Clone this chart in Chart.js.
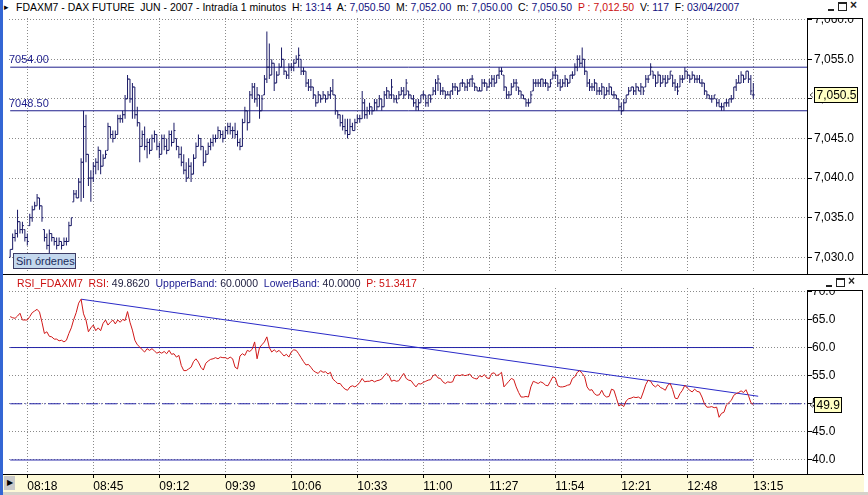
<!DOCTYPE html>
<html>
<head>
<meta charset="utf-8">
<title>FDAXM7 - DAX FUTURE JUN 2007</title>
<script src="https://cdn.jsdelivr.net/npm/chart.js@4.4.1/dist/chart.umd.min.js"></script>
<style>
  body { margin: 0; background: #fff; font-family: "Liberation Sans", Arial, sans-serif; }
  #page { position: relative; width: 868px; height: 495px; overflow: hidden; background: #fff; }
  .abs { position: absolute; }
  .t { position: absolute; white-space: pre; font-size: 11px; line-height: 13px; z-index: 5; color: #000; }
  .v { color: #101080; }
  .red { color: #cc1010; }
  .navy { color: #1a1a90; }
  .dk { color: #202040; }
  .btn { position: absolute; z-index: 5; box-sizing: border-box; }
  canvas { position: absolute; left: 0; z-index: 1; }
</style>
</head>
<body>
<div id="page">
  <!-- window frame pieces -->
  <div class="abs" style="left:0;top:0;width:3px;height:495px;background:#3466d4;z-index:6"></div>
  <div class="abs" style="left:3px;top:0;width:865px;height:18px;background:#fff;z-index:3"></div>
  <div class="abs" style="left:807px;top:18px;width:56px;height:257px;border:1px solid #000;box-sizing:border-box"></div>
  <div class="abs" style="left:3px;top:274px;width:865px;height:1px;background:#000;z-index:3"></div>
  <div class="abs" style="left:3px;top:275px;width:865px;height:13px;background:#fff;z-index:3"></div>
  <div class="abs" style="left:807px;top:275px;width:56px;height:16px;background:#fff;border-bottom:1px solid #000;box-sizing:border-box;z-index:3"></div>
  <div class="abs" style="left:807px;top:290px;width:56px;height:185px;border:1px solid #000;box-sizing:border-box"></div>
  <div class="abs" style="left:3px;top:474px;width:861px;height:18px;background:#fdf9d8;border-top:1px solid #000;box-sizing:border-box"></div>
  <div class="abs" style="left:3px;top:492px;width:865px;height:3px;background:#d6d2ca;z-index:3"></div>
  <div class="abs" style="left:4px;top:476px;width:11px;height:14px;background:#c9c9c9;z-index:3;font-size:8px;line-height:14px;text-align:center">&#9654;</div>

  <!-- title line -->
  <span class="t" style="left:4px;top:1px;font-size:9px">&#9656;</span>
  <span class="t fit" data-w="724" style="left:16px;top:1px">FDAXM7 - DAX FUTURE  JUN - 2007 - Intradía 1 minutos  H: <span class="v">13:14</span>  A: <span class="v">7,050.50</span>  M: <span class="v">7,052.00</span>  m: <span class="v">7,050.00</span>  C: <span class="v">7,050.50</span>  <span class="red">P : 7,012.50</span>  V: <span class="v">117</span>  F: <span class="v">03/04/2007</span></span>
  <div class="btn" style="left:828px;top:9px;width:6px;height:2px;background:#222"></div>
  <div class="btn" style="left:838px;top:2px;width:9px;height:9px;border:1px solid #222;border-top-width:2px"></div>
  <span class="t" style="left:850px;top:-1px;font-size:12px;font-weight:bold;color:#222">&#215;</span>

  <!-- RSI header -->
  <span class="t fit" data-w="400" style="left:17px;top:277px"><span class="red">RSI_FDAXM7  RSI:</span> <span class="dk">49.8620</span>  <span class="navy">UppperBand:</span> <span class="dk">60.0000</span>  <span class="navy">LowerBand:</span> <span class="dk">40.0000</span>  <span class="red">P: 51.3417</span></span>
  <div class="btn" style="left:826px;top:285px;width:6px;height:2px;background:#222"></div>
  <div class="btn" style="left:836px;top:278px;width:9px;height:9px;border:1px solid #222;border-top-width:2px"></div>
  <span class="t" style="left:848px;top:275px;font-size:12px;font-weight:bold;color:#222">&#215;</span>

  <div class="abs" style="left:13px;top:253px;width:63px;height:16px;box-sizing:border-box;border:1px solid #3c3c64;background:#c4d8ee;color:#1c2c5c;font-size:11px;line-height:14px;padding-left:2px;z-index:5;white-space:nowrap">Sin órdenes</div>

  <canvas id="priceChart" width="868" height="284" style="top:0"></canvas>
  <canvas id="rsiChart" width="868" height="220" style="top:275px"></canvas>
</div>

<script>
// ---- data ----
const firstBarTime = '08:11';   // one bar per minute
const timeLabels = ['08:18', '08:45', '09:12', '09:39', '10:06', '10:33', '11:00', '11:27', '11:54', '12:21', '12:48', '13:15'];
const priceTicks = [7030, 7035, 7040, 7045, 7050, 7055, 7060];
const rsiTicks = [40, 45, 50, 55, 60, 65, 70];
const priceLevels = [7054.00, 7048.50];
const rsiBands = [60, 40];
const rsiMid = 50;
const trendTimes = ['08:40', '13:17'];
const trendValues = [68.6, 51.34];

const opens = [
  7030.0, 7031.0, 7032.5, 7033.0, 7034.5, 7033.5, 7033.5, 7032.5, 7034.0, 7035.0,
  7036.0, 7036.5, 7037.5, 7036.5, 7033.5, 7032.5, 7031.5, 7033.0, 7032.5, 7032.0,
  7031.5, 7032.0, 7031.5, 7032.0, 7032.0, 7034.0, 7037.0, 7038.0, 7037.5, 7039.5,
  7042.0, 7046.5, 7043.0, 7040.0, 7040.0, 7041.5, 7042.0, 7043.5, 7041.5, 7042.5,
  7043.5, 7046.5, 7045.5, 7045.0, 7045.5, 7047.5, 7047.5, 7048.0, 7050.0, 7052.5,
  7050.0, 7051.5, 7048.0, 7047.0, 7044.0, 7045.5, 7044.0, 7044.5, 7043.5, 7045.0,
  7045.5, 7044.0, 7043.0, 7045.0, 7044.0, 7043.5, 7045.5, 7044.5, 7045.0, 7044.0,
  7043.0, 7042.0, 7041.0, 7040.0, 7041.5, 7040.5, 7042.5, 7044.0, 7045.0, 7044.0,
  7042.0, 7043.0, 7044.0, 7044.5, 7045.0, 7045.0, 7046.0, 7045.5, 7045.0, 7046.0,
  7046.5, 7046.0, 7046.0, 7045.5, 7044.5, 7044.0, 7047.0, 7048.5, 7047.0, 7050.5,
  7051.5, 7050.0, 7050.5, 7048.5, 7050.5, 7052.5, 7054.0, 7053.0, 7054.5, 7052.0,
  7053.0, 7054.0, 7055.0, 7053.5, 7053.0, 7054.0, 7054.0, 7054.5, 7055.0, 7055.0,
  7053.5, 7053.5, 7052.0, 7051.5, 7051.5, 7050.5, 7049.5, 7050.5, 7050.0, 7050.5,
  7050.0, 7050.5, 7051.0, 7050.5, 7048.5, 7048.0, 7047.0, 7046.5, 7046.0, 7045.5,
  7046.5, 7046.0, 7047.0, 7047.5, 7047.5, 7049.5, 7048.0, 7048.5, 7049.0, 7048.5,
  7049.5, 7049.0, 7050.0, 7049.0, 7050.5, 7051.0, 7050.5, 7050.5, 7050.0, 7050.0,
  7050.5, 7051.0, 7050.5, 7051.0, 7050.5, 7050.0, 7049.5, 7049.0, 7049.5, 7050.5,
  7050.5, 7049.5, 7050.5, 7050.5, 7051.0, 7052.0, 7052.0, 7051.0, 7051.0, 7050.5,
  7050.5, 7051.0, 7051.5, 7051.5, 7051.0, 7052.0, 7052.0, 7051.5, 7052.0, 7052.5,
  7052.0, 7051.5, 7051.0, 7051.0, 7052.0, 7052.0, 7051.5, 7052.0, 7052.5, 7052.0,
  7053.0, 7053.5, 7053.0, 7051.5, 7050.5, 7050.5, 7051.5, 7052.0, 7051.5, 7051.0,
  7050.5, 7050.0, 7049.5, 7049.5, 7051.0, 7052.0, 7052.0, 7052.0, 7052.5, 7052.0,
  7052.0, 7051.5, 7052.5, 7053.0, 7053.0, 7052.0, 7051.5, 7052.0, 7052.5, 7052.0,
  7053.0, 7053.0, 7054.0, 7055.0, 7054.5, 7055.0, 7053.5, 7052.0, 7051.5, 7051.5,
  7052.0, 7051.0, 7051.0, 7051.5, 7050.5, 7051.0, 7051.5, 7050.5, 7050.5, 7050.0,
  7049.0, 7048.5, 7049.5, 7050.5, 7051.0, 7051.5, 7051.0, 7051.5, 7051.0, 7051.5,
  7051.5, 7052.5, 7053.0, 7053.5, 7053.0, 7052.0, 7053.0, 7052.0, 7052.5, 7052.0,
  7052.5, 7053.0, 7052.0, 7051.5, 7051.5, 7052.5, 7052.5, 7053.5, 7053.0, 7052.5,
  7053.0, 7052.5, 7052.5, 7052.0, 7052.0, 7051.0, 7050.5, 7050.0, 7050.0, 7050.0,
  7049.5, 7049.0, 7049.0, 7049.5, 7049.5, 7050.0, 7050.0, 7051.5, 7052.0, 7052.0,
  7053.0, 7052.5, 7053.5, 7052.5, 7050.5
];
const highs = [
  7031.0, 7033.0, 7033.5, 7036.0, 7034.5, 7034.5, 7033.5, 7033.0, 7035.5, 7036.5,
  7037.0, 7038.0, 7037.5, 7036.5, 7033.5, 7033.0, 7033.5, 7033.0, 7032.5, 7032.5,
  7032.5, 7032.0, 7032.5, 7032.5, 7034.5, 7035.0, 7038.5, 7038.5, 7040.0, 7042.5,
  7048.5, 7048.0, 7043.0, 7041.0, 7042.0, 7042.5, 7044.0, 7043.5, 7043.0, 7043.5,
  7047.0, 7046.5, 7046.0, 7046.0, 7048.0, 7048.0, 7048.5, 7050.5, 7053.0, 7052.5,
  7052.0, 7051.5, 7049.0, 7047.0, 7046.0, 7046.5, 7045.0, 7045.0, 7045.5, 7046.0,
  7045.5, 7044.5, 7045.5, 7045.5, 7045.0, 7046.0, 7046.0, 7047.0, 7045.0, 7044.0,
  7044.0, 7043.0, 7042.0, 7042.5, 7042.0, 7043.0, 7044.5, 7045.5, 7045.0, 7044.0,
  7043.5, 7044.5, 7045.0, 7045.5, 7045.5, 7046.5, 7046.0, 7046.0, 7046.5, 7047.0,
  7047.0, 7046.5, 7047.0, 7046.0, 7045.0, 7047.5, 7049.0, 7048.5, 7051.0, 7052.0,
  7052.0, 7051.5, 7050.5, 7050.5, 7053.0, 7058.5, 7057.0, 7055.0, 7054.5, 7053.5,
  7054.5, 7056.5, 7055.0, 7053.5, 7054.5, 7054.5, 7055.0, 7055.5, 7056.5, 7055.0,
  7054.0, 7053.5, 7052.5, 7052.5, 7051.5, 7050.5, 7051.0, 7050.5, 7051.0, 7050.5,
  7051.0, 7051.5, 7052.5, 7050.5, 7048.5, 7048.0, 7048.0, 7047.5, 7047.5, 7047.5,
  7047.0, 7047.5, 7048.0, 7048.0, 7051.0, 7050.0, 7049.0, 7049.5, 7049.0, 7050.0,
  7050.0, 7050.5, 7050.0, 7051.0, 7051.5, 7051.0, 7052.5, 7050.5, 7050.5, 7051.0,
  7051.5, 7051.5, 7052.5, 7051.0, 7050.5, 7050.5, 7050.0, 7050.0, 7050.5, 7051.0,
  7050.5, 7050.5, 7050.5, 7051.5, 7052.5, 7053.0, 7052.0, 7051.5, 7051.0, 7051.0,
  7051.0, 7052.0, 7052.0, 7051.5, 7052.0, 7052.5, 7052.0, 7052.5, 7052.5, 7053.0,
  7052.0, 7051.5, 7051.5, 7052.5, 7052.5, 7052.0, 7052.5, 7053.0, 7053.0, 7053.0,
  7054.0, 7054.0, 7053.0, 7051.5, 7051.0, 7052.0, 7052.5, 7052.5, 7051.5, 7051.0,
  7050.5, 7050.0, 7050.0, 7051.0, 7052.5, 7052.5, 7052.5, 7052.5, 7052.5, 7052.5,
  7052.0, 7052.5, 7053.5, 7054.0, 7053.0, 7052.5, 7052.5, 7053.0, 7052.5, 7053.0,
  7053.5, 7054.5, 7055.5, 7055.5, 7056.5, 7055.0, 7053.5, 7052.5, 7052.0, 7052.5,
  7052.0, 7051.5, 7052.0, 7051.5, 7051.5, 7052.0, 7051.5, 7051.0, 7050.5, 7050.0,
  7049.5, 7050.0, 7050.5, 7051.5, 7051.5, 7051.5, 7052.0, 7051.5, 7052.0, 7051.5,
  7053.0, 7053.0, 7054.5, 7053.5, 7053.0, 7053.5, 7053.0, 7053.0, 7053.0, 7053.0,
  7053.5, 7053.0, 7052.5, 7052.0, 7053.0, 7053.0, 7054.0, 7053.5, 7053.0, 7053.5,
  7053.0, 7053.0, 7053.0, 7052.5, 7052.0, 7051.0, 7050.5, 7050.5, 7050.5, 7050.0,
  7050.0, 7049.5, 7049.5, 7050.0, 7050.0, 7050.5, 7051.5, 7052.5, 7053.0, 7053.5,
  7053.0, 7053.5, 7053.5, 7053.0, 7052.0
];
const lows = [
  7030.0, 7031.0, 7032.0, 7032.5, 7033.0, 7033.0, 7032.0, 7031.5, 7034.0, 7034.5,
  7036.0, 7036.5, 7036.0, 7034.5, 7032.0, 7031.0, 7030.5, 7032.0, 7031.5, 7031.0,
  7031.5, 7031.0, 7031.5, 7031.5, 7032.0, 7034.0, 7037.0, 7037.5, 7037.5, 7037.0,
  7037.5, 7042.0, 7039.0, 7037.0, 7039.5, 7040.5, 7041.0, 7040.5, 7041.5, 7042.5,
  7043.5, 7045.0, 7044.5, 7045.0, 7045.5, 7047.0, 7047.0, 7047.5, 7050.0, 7049.5,
  7047.5, 7047.5, 7046.5, 7042.0, 7044.0, 7043.5, 7042.5, 7043.0, 7043.5, 7044.5,
  7043.5, 7042.5, 7043.0, 7043.5, 7043.0, 7043.5, 7044.0, 7044.5, 7043.5, 7042.5,
  7041.5, 7040.5, 7039.5, 7040.0, 7039.5, 7040.5, 7042.5, 7044.0, 7043.5, 7041.5,
  7042.0, 7043.0, 7043.5, 7044.0, 7044.5, 7045.0, 7045.0, 7044.5, 7045.0, 7045.5,
  7045.5, 7045.0, 7045.0, 7044.0, 7043.5, 7044.0, 7047.0, 7046.0, 7047.0, 7050.0,
  7049.5, 7049.0, 7047.5, 7048.5, 7050.5, 7052.0, 7052.5, 7053.0, 7051.0, 7052.0,
  7053.0, 7054.0, 7053.0, 7052.5, 7052.5, 7053.5, 7053.5, 7054.5, 7054.0, 7053.0,
  7053.0, 7051.5, 7051.0, 7051.0, 7050.0, 7049.0, 7049.5, 7049.5, 7050.0, 7049.5,
  7050.0, 7050.0, 7050.5, 7048.0, 7047.5, 7046.5, 7046.0, 7045.5, 7045.0, 7045.5,
  7046.0, 7046.0, 7047.0, 7047.0, 7047.5, 7047.5, 7047.5, 7048.0, 7048.0, 7048.5,
  7048.5, 7049.0, 7048.5, 7049.0, 7050.0, 7050.0, 7050.0, 7049.5, 7049.5, 7050.0,
  7050.5, 7050.0, 7050.5, 7050.0, 7050.0, 7049.0, 7048.5, 7048.5, 7049.5, 7050.0,
  7049.0, 7049.0, 7049.5, 7050.5, 7050.5, 7051.0, 7050.5, 7050.5, 7050.0, 7050.5,
  7050.0, 7050.5, 7051.0, 7050.5, 7051.0, 7051.5, 7051.0, 7051.0, 7051.5, 7051.5,
  7051.0, 7051.0, 7051.0, 7051.0, 7051.5, 7051.0, 7051.5, 7051.5, 7051.5, 7052.0,
  7052.5, 7053.0, 7051.0, 7050.0, 7050.0, 7050.5, 7051.5, 7051.0, 7050.5, 7050.0,
  7050.0, 7049.0, 7049.0, 7049.5, 7051.0, 7051.5, 7051.5, 7051.5, 7051.5, 7051.5,
  7051.0, 7051.5, 7052.5, 7052.5, 7051.5, 7051.0, 7051.5, 7051.5, 7051.5, 7052.0,
  7052.5, 7053.0, 7053.5, 7054.0, 7054.0, 7053.0, 7051.5, 7051.0, 7051.0, 7051.0,
  7050.5, 7050.5, 7050.5, 7050.0, 7050.5, 7050.5, 7050.5, 7050.0, 7050.0, 7048.5,
  7048.0, 7048.5, 7049.5, 7050.5, 7051.0, 7050.5, 7050.5, 7051.0, 7050.5, 7050.5,
  7051.5, 7052.0, 7053.0, 7052.5, 7051.5, 7052.0, 7051.5, 7052.0, 7051.5, 7052.0,
  7052.5, 7051.5, 7051.0, 7050.5, 7051.5, 7052.0, 7052.5, 7052.5, 7052.0, 7052.5,
  7052.0, 7052.0, 7052.0, 7051.5, 7050.5, 7050.0, 7050.0, 7049.5, 7050.0, 7049.0,
  7049.0, 7048.5, 7048.5, 7049.0, 7049.0, 7049.5, 7050.0, 7051.0, 7052.0, 7052.0,
  7052.0, 7052.5, 7052.0, 7050.5, 7050.0
];
const closes = [
  7031.0, 7032.5, 7033.0, 7034.5, 7033.5, 7034.0, 7032.5, 7032.0, 7035.0, 7036.0,
  7036.5, 7037.5, 7036.5, 7035.0, 7032.5, 7031.5, 7033.0, 7032.5, 7032.0, 7031.5,
  7032.0, 7031.5, 7032.0, 7032.0, 7034.0, 7035.0, 7038.0, 7037.5, 7039.5, 7042.0,
  7046.5, 7043.0, 7040.0, 7040.0, 7041.5, 7042.0, 7043.5, 7041.5, 7042.5, 7043.0,
  7046.5, 7045.5, 7045.0, 7045.5, 7047.5, 7047.5, 7048.0, 7050.0, 7052.5, 7050.0,
  7051.5, 7048.0, 7047.0, 7044.0, 7045.5, 7044.0, 7044.5, 7043.5, 7045.0, 7045.5,
  7044.0, 7043.0, 7045.0, 7044.0, 7043.5, 7045.5, 7044.5, 7046.0, 7044.0, 7043.0,
  7042.0, 7041.0, 7040.0, 7041.5, 7040.5, 7042.5, 7044.0, 7045.0, 7044.0, 7042.0,
  7043.0, 7044.0, 7044.5, 7045.0, 7045.0, 7046.0, 7045.5, 7045.0, 7046.0, 7046.5,
  7046.0, 7046.0, 7045.5, 7044.5, 7044.0, 7047.0, 7048.5, 7047.0, 7050.5, 7051.5,
  7050.0, 7050.5, 7048.5, 7050.0, 7052.5, 7054.0, 7053.0, 7054.5, 7052.0, 7053.0,
  7054.0, 7055.0, 7053.5, 7053.0, 7054.0, 7054.0, 7054.5, 7055.0, 7055.5, 7053.5,
  7053.5, 7052.0, 7051.5, 7051.5, 7050.5, 7049.5, 7050.5, 7050.0, 7050.5, 7050.0,
  7050.5, 7051.0, 7050.5, 7048.5, 7048.0, 7047.0, 7046.5, 7046.0, 7045.5, 7046.5,
  7046.0, 7047.0, 7047.5, 7047.5, 7049.5, 7048.0, 7048.5, 7049.0, 7048.5, 7049.5,
  7049.0, 7050.0, 7049.0, 7050.5, 7051.0, 7050.5, 7051.5, 7050.0, 7049.5, 7050.5,
  7051.0, 7050.5, 7052.0, 7050.5, 7050.0, 7049.5, 7049.0, 7049.5, 7050.5, 7050.5,
  7049.5, 7050.5, 7050.0, 7051.0, 7052.0, 7052.5, 7051.0, 7051.0, 7050.5, 7050.5,
  7051.0, 7051.5, 7051.5, 7051.0, 7052.0, 7052.0, 7051.5, 7052.0, 7052.5, 7052.5,
  7051.5, 7051.0, 7051.0, 7052.0, 7052.0, 7051.5, 7052.0, 7052.5, 7052.0, 7053.0,
  7053.5, 7053.5, 7051.5, 7050.5, 7050.5, 7051.5, 7052.0, 7052.0, 7051.0, 7050.5,
  7050.0, 7049.5, 7049.5, 7050.5, 7052.0, 7052.0, 7052.0, 7052.5, 7052.0, 7052.0,
  7051.5, 7052.0, 7053.0, 7053.5, 7052.0, 7051.5, 7052.0, 7052.5, 7052.0, 7053.0,
  7053.0, 7054.0, 7055.0, 7054.5, 7055.0, 7053.5, 7052.0, 7051.5, 7051.5, 7052.0,
  7051.0, 7051.0, 7051.5, 7050.5, 7051.0, 7051.5, 7050.5, 7050.5, 7050.0, 7049.0,
  7048.5, 7049.5, 7050.5, 7051.0, 7051.5, 7051.0, 7051.5, 7051.0, 7051.5, 7051.0,
  7052.5, 7052.5, 7054.0, 7053.0, 7052.0, 7053.0, 7052.0, 7052.5, 7052.0, 7052.5,
  7053.5, 7052.0, 7051.5, 7051.0, 7052.5, 7052.5, 7053.5, 7053.0, 7052.5, 7053.0,
  7052.5, 7052.5, 7052.0, 7052.0, 7051.0, 7050.5, 7050.0, 7050.0, 7050.5, 7049.5,
  7049.0, 7049.0, 7049.5, 7049.5, 7050.0, 7050.0, 7051.5, 7052.0, 7052.0, 7053.0,
  7052.5, 7053.5, 7052.5, 7051.0, 7050.5
];
const rsiValues = [
  65.5, 65.3, 65.2, 65.6, 66.1, 64.9, 64.9, 64.9, 65.5, 66.2,
  66.5, 66.8, 66.3, 64.5, 62.5, 62.8, 62.0, 61.9, 61.5, 61.5,
  61.2, 61.3, 61.0, 61.3, 62.5, 63.5, 65.0, 66.2, 67.9, 68.6,
  66.0, 64.9, 62.8, 63.5, 64.0, 63.0, 63.5, 63.0, 64.3, 64.9,
  64.0, 64.5, 64.9, 64.2, 64.9, 64.5, 65.0, 64.8, 66.4, 64.5,
  63.1, 61.3, 60.5, 60.1, 59.6, 59.2, 59.8, 59.5, 59.8, 59.4,
  59.0, 59.2, 59.0, 59.3, 58.9, 59.5, 58.8, 58.9, 58.3, 58.6,
  56.8, 55.9, 55.9, 56.2, 56.5, 57.5, 58.0, 57.4, 56.5, 56.0,
  57.2, 57.6, 57.9, 58.0, 58.2, 58.0, 58.3, 58.2, 58.2, 58.0,
  58.3, 58.0, 56.5, 56.2, 58.5, 58.9, 58.6, 59.5, 59.3, 59.7,
  61.0, 58.0, 60.0, 60.5, 61.0, 61.9, 60.0, 59.2, 59.6, 59.2,
  59.5, 59.0, 58.5, 58.8, 58.3, 59.2, 59.6, 59.5, 58.9, 58.2,
  57.5, 56.9, 57.0, 56.5, 55.9, 55.6, 55.4, 55.9, 55.6, 55.7,
  55.3, 55.6, 54.4, 54.0, 53.6, 53.6, 53.0, 52.6, 52.4, 53.0,
  53.2, 53.0, 53.3, 53.8, 54.5, 53.9, 54.0, 54.0, 54.2, 53.9,
  54.1, 54.2, 54.4, 55.0, 55.4, 55.0, 54.0, 54.2, 54.0, 54.1,
  54.8, 55.4, 54.5, 54.2, 54.1, 53.5, 53.0, 53.6, 53.5, 53.8,
  54.0, 54.2, 54.3, 55.0, 55.2, 54.6, 54.5, 53.9, 53.6, 53.9,
  53.8, 53.9, 55.0, 55.1, 55.0, 55.2, 55.0, 55.1, 55.3, 54.7,
  54.5, 54.4, 55.0, 54.8, 55.2, 54.6, 54.5, 55.4, 55.5, 55.0,
  55.2, 55.6, 53.0, 53.5, 54.0, 54.5, 54.3, 53.0, 52.0, 51.2,
  51.2, 51.3, 51.2, 53.0, 54.0, 53.8, 53.6, 53.9, 53.7, 53.3,
  53.2, 54.0, 54.8, 54.6, 53.2, 53.0, 53.0, 53.1, 53.3, 53.4,
  54.5, 54.8, 55.6, 55.9, 55.4, 54.8, 53.0, 52.4, 52.5, 51.8,
  51.5, 51.6, 52.4, 51.5, 51.2, 51.3, 52.6, 52.4, 51.0, 49.6,
  49.9, 49.5, 50.5, 50.9, 51.0, 51.2, 51.1, 51.2, 50.9, 52.1,
  53.4, 54.2, 54.0, 53.3, 53.0, 53.4, 52.9, 52.7, 52.4, 53.3,
  53.6, 52.5, 51.0, 50.9, 51.8, 52.4, 53.3, 52.8, 52.4, 52.1,
  52.6, 52.2, 52.1, 51.2, 50.0, 49.4, 49.4, 49.5, 49.3, 49.4,
  47.6, 48.3, 48.5, 49.8, 50.2, 50.6, 51.5, 51.8, 52.0, 52.3,
  52.0, 52.5, 51.5, 50.2, 49.86
];

// fit the header lines to the width they take in the picture
document.querySelectorAll('.fit').forEach(el => {
  const w = el.getBoundingClientRect().width;
  const fs = parseFloat(getComputedStyle(el).fontSize);
  el.style.fontSize = (fs * Number(el.dataset.w) / w).toFixed(2) + 'px';
});

// ---- helpers ----
const toMin = s => { const [h, m] = s.split(':').map(Number); return h * 60 + m; };
const t0 = toMin(firstBarTime);
const barTimes = closes.map((_, i) => t0 + i);
const firstT = barTimes[0];
const lastT = barTimes[barTimes.length - 1];

// visible window
const xMin = 490.51, xMax = 816.97;

const BAR = '#1a1a66';
const LEVEL = '#1f1f8c';
const BAND = '#2424a8';
const GRID = '#8a8a8a';
const fmtPrice = v => v.toLocaleString('en-US', { minimumFractionDigits: 1, maximumFractionDigits: 1 });

Chart.defaults.font.family = '"Liberation Sans", Arial, sans-serif';
Chart.defaults.font.size = 12;
Chart.defaults.color = '#000';

function timeAxis(showLabels) {
  return {
    type: 'linear', min: xMin, max: xMax, offset: false,
    afterBuildTicks: s => { s.ticks = timeLabels.map(l => ({ value: toMin(l) })); },
    grid: { color: GRID, offset: false, drawTicks: showLabels, tickLength: 4, tickColor: '#000' },
    border: { display: showLabels, color: '#000', dash: [1, 2] },
    ticks: {
      display: showLabels, align: 'start', autoSkip: false, maxRotation: 0, padding: 1,
      color: '#000', callback: (v, i) => timeLabels[i]
    },
    afterFit: s => { s.height = showLabels ? 21 : 0; }
  };
}

function valueAxis(min, max, ticks, fmt, pad) {
  return {
    type: 'linear', position: 'right', min: min, max: max, beginAtZero: false,
    afterBuildTicks: s => { s.ticks = ticks.map(v => ({ value: v })); },
    grid: { color: GRID, tickLength: 5, tickColor: '#000' },
    border: { color: '#000', dash: [1, 2] },
    ticks: { padding: pad, color: '#000', callback: fmt },
    afterFit: s => { s.width = 61; }
  };
}

// yellow box with the last value on the right axis
function lastValueBox(value, text, boxW) {
  return {
    id: 'lastValueBox',
    afterDraw(chart) {
      const ctx = chart.ctx;
      const y = Math.round(chart.scales.y.getPixelForValue(value));
      const x = chart.chartArea.right + 7;
      ctx.save();
      ctx.fillStyle = '#ffffc4';
      ctx.fillRect(x, y - 7, boxW, 14);
      ctx.strokeStyle = '#000';
      ctx.lineWidth = 1;
      ctx.strokeRect(x + 0.5, y - 7.5, boxW, 15);
      ctx.fillStyle = '#000';
      ctx.font = '12px "Liberation Sans", Arial, sans-serif';
      ctx.textBaseline = 'middle';
      ctx.fillText(text, x + 2.5, y + 0.5);
      ctx.strokeStyle = '#555';
      ctx.beginPath();
      ctx.moveTo(x - 1, y - 2.5); ctx.lineTo(x - 4, y); ctx.lineTo(x - 1, y + 2.5);
      ctx.stroke();
      ctx.restore();
    }
  };
}

const levelLabels = {
  id: 'levelLabels',
  afterDatasetsDraw(chart) {
    const ctx = chart.ctx, ys = chart.scales.y;
    ctx.save();
    ctx.font = '11px "Liberation Sans", Arial, sans-serif';
    ctx.fillStyle = LEVEL;
    priceLevels.forEach(v => ctx.fillText(v.toFixed(2), chart.chartArea.left, ys.getPixelForValue(v) - 4));
    ctx.restore();
  }
};

const levelSets = priceLevels.map(v => ({
  type: 'line', order: 5,
  data: [{ x: firstT, y: v }, { x: xMax, y: v }],
  borderColor: LEVEL, borderWidth: 1, pointRadius: 0
}));

new Chart(document.getElementById('priceChart'), {
  type: 'bar',
  data: {
    datasets: [
      {
        type: 'scatter', order: 0,
        data: barTimes.map((t, i) => ({ x: t, y: closes[i] })),
        pointStyle: 'dash', rotation: 0, pointRadius: 1.5, pointHoverRadius: 1.5,
        borderColor: BAR, borderWidth: 1
      },
      {
        type: 'scatter', order: 0,
        data: barTimes.map((t, i) => ({ x: t, y: opens[i] })),
        pointStyle: 'dash', rotation: 180, pointRadius: 1.5, pointHoverRadius: 1.5,
        borderColor: BAR, borderWidth: 1
      },
      {
        type: 'bar', order: 1,
        data: barTimes.map((t, i) => ({ x: t, y: [lows[i], highs[i]] })),
        backgroundColor: BAR, barThickness: 1, inflateAmount: 0
      },
      ...levelSets
    ]
  },
  options: {
    responsive: false, animation: false, events: [],
    layout: { padding: { left: 9, top: 18, right: 0, bottom: 11 } },
    plugins: { legend: { display: false }, tooltip: { enabled: false } },
    scales: {
      x: timeAxis(false),
      y: valueAxis(7028.02, 7060.21, priceTicks, v => fmtPrice(v), 2)
    }
  },
  plugins: [levelLabels, lastValueBox(closes[closes.length - 1], fmtPrice(closes[closes.length - 1]), 43)]
});

const lastRsi = rsiValues[rsiValues.length - 1];

new Chart(document.getElementById('rsiChart'), {
  type: 'line',
  data: {
    datasets: [
      {
        order: 0,
        data: barTimes.map((t, i) => ({ x: t, y: rsiValues[i] })),
        borderColor: '#d01818', borderWidth: 1, pointRadius: 0, tension: 0
      },
      {
        order: 1,
        data: trendTimes.map((t, i) => ({ x: toMin(t), y: trendValues[i] })),
        borderColor: '#2a2ac8', borderWidth: 1, pointRadius: 0
      },
      ...rsiBands.map(v => ({
        order: 2,
        data: [{ x: firstT, y: v }, { x: lastT, y: v }],
        borderColor: BAND, borderWidth: 1, pointRadius: 0
      })),
      {
        order: 2,
        data: [{ x: firstT, y: rsiMid }, { x: xMax, y: rsiMid }],
        borderColor: BAND, borderWidth: 1, pointRadius: 0, borderDash: [12, 3, 1, 3]
      }
    ]
  },
  options: {
    responsive: false, animation: false, events: [],
    layout: { padding: { left: 9, top: 13, right: 0, bottom: 0 } },
    plugins: { legend: { display: false }, tooltip: { enabled: false } },
    scales: {
      x: timeAxis(true),
      y: valueAxis(37.51, 70.59, rsiTicks, v => v.toFixed(1), 0)
    }
  },
  plugins: [lastValueBox(lastRsi, lastRsi.toFixed(1), 27)]
});
</script>
</body>
</html>
